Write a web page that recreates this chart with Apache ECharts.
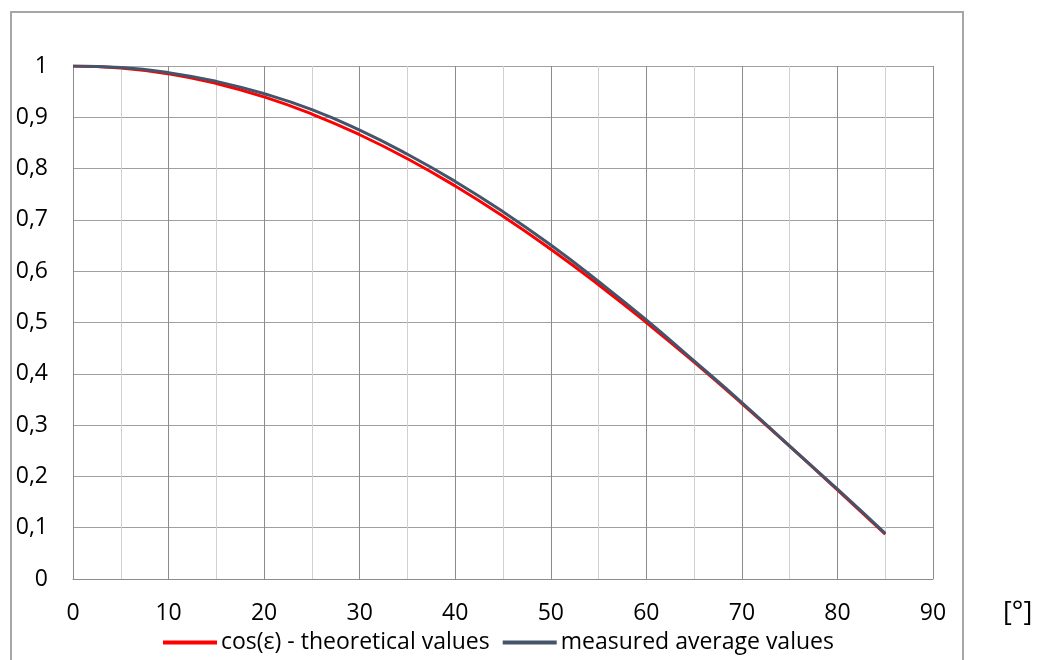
<!DOCTYPE html>
<html><head><meta charset="utf-8">
<script src="https://cdn.jsdelivr.net/npm/echarts@6/dist/echarts.min.js"></script>
<style>html,body{margin:0;padding:0;background:#fff}#c{width:1038px;height:660px}</style>
</head><body><div id="c"></div>
<script>
const angles = [0,5,10,15,20,25,30,35,40,45,50,55,60,65,70,75,80,85];
const theoretical = [1,0.9962,0.9848,0.9659,0.9397,0.9063,0.8660,0.8192,0.7660,0.7071,0.6428,0.5736,0.5,0.4226,0.3420,0.2588,0.1736,0.0872];
const measured = [1,0.997,0.987,0.970,0.946,0.915,0.875,0.828,0.775,0.716,0.651,0.580,0.505,0.425,0.344,0.259,0.175,0.089];
const seriesNames = ['cos(ε) - theoretical values','measured average values'];
const unitLabel = '[°]';

const font = '"Open Sans", sans-serif';
const chart = echarts.init(document.getElementById('c'), null, {renderer:'canvas'});
chart.setOption({
  animation:false,
  backgroundColor:'#fff',
  grid:{left:73,right:105,top:66,bottom:81,containLabel:false},
  xAxis:{type:'value',min:0,max:90,interval:10,
    axisLine:{show:true,lineStyle:{color:'#8c8c8c',width:1}},
    axisTick:{show:false},
    axisLabel:{color:'#000',fontSize:23,fontFamily:font,margin:23},
    splitLine:{show:true,lineStyle:{color:'#8c8c8c',width:1}},
    minorTick:{show:false,splitNumber:2},
    minorSplitLine:{show:true,lineStyle:{color:'#d0d0d0',width:1}}
  },
  yAxis:{type:'value',min:0,max:1,interval:0.1,
    axisLine:{show:true,lineStyle:{color:'#8c8c8c',width:1}},
    axisTick:{show:false},
    axisLabel:{color:'#000',fontSize:23,fontFamily:font,margin:25,
      formatter:v=>String(Math.round(v*10)/10).replace('.',',')},
    splitLine:{show:true,lineStyle:{color:'#a0a0a0',width:1}}
  },
  legend:{bottom:1,left:158,itemGap:13,itemWidth:54,itemHeight:4,icon:'rect',
    textStyle:{color:'#000',fontSize:23,fontFamily:font,padding:[0,0,0,-1]},
    data:seriesNames},
  graphic:[
    {type:'rect',shape:{x:11,y:12,width:952,height:700},style:{fill:'none',stroke:'#a6a6a6',lineWidth:2},silent:true,z:-1},
    {type:'text',left:1003,top:600,style:{text:unitLabel,fontSize:27,fontFamily:font,fill:'#000'}}
  ],
  series:[
    {name:seriesNames[0],type:'line',smooth:true,showSymbol:false,
      data:angles.map((a,i)=>[a,theoretical[i]]),
      lineStyle:{color:'#ff0000',width:3},itemStyle:{color:'#ff0000'}},
    {name:seriesNames[1],type:'line',smooth:true,showSymbol:false,
      data:angles.map((a,i)=>[a,measured[i]]),
      lineStyle:{color:'#44546a',width:3},itemStyle:{color:'#44546a'}}
  ]
});
</script></body></html>
